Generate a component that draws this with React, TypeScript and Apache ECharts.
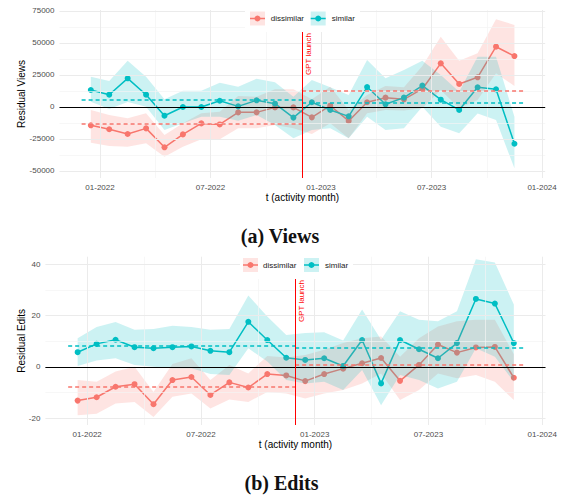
import React, { useEffect, useRef } from "react";
import * as echarts from "echarts";

// ---------- data ----------
const months = [
  "2021-12", "2022-01", "2022-02", "2022-03", "2022-04", "2022-05",
  "2022-06", "2022-07", "2022-08", "2022-09", "2022-10", "2022-11",
  "2022-12", "2023-01", "2023-02", "2023-03", "2023-04", "2023-05",
  "2023-06", "2023-07", "2023-08", "2023-09", "2023-10", "2023-11",
];
const groups = ["dissimilar", "similar"];

const viewsDissimilar = [-14300, -17400, -21100, -16700, -31500, -21400, -12800, -13600, -4200, -4200, -300, -300, -8100, 1000, -10900, 3700, 7300, 6000, 14100, 34100, 18000, 23200, 47100, 39800];
const viewsDissimilarLo = [-27900, -30500, -31000, -28400, -38800, -31000, -25200, -25200, -16700, -16700, -14000, -16700, -21100, -12700, -24500, -4900, -2300, -2700, -1000, 13300, -1000, 5500, 26300, 16400];
const viewsDissimilarHi = [-2300, -6300, -8800, -4900, -21900, -12700, -4900, -3700, 8600, 8000, 13800, 13800, 6000, 15900, -2300, 9400, 16400, 15400, 32000, 54900, 36200, 41900, 68500, 64100];
const viewsSimilar = [13300, 9600, 22400, 9600, -6800, 0, 0, 4900, 500, 5200, 2600, -8300, 3700, -2300, -7300, 15600, 2100, 7300, 16700, 5700, -2300, 15400, 13800, -28700];
const viewsSimilarLo = [4100, -1600, 3900, 200, -18000, -12700, -7600, -7600, -10700, -6300, -14000, -24500, -18000, -16700, -24500, -7600, -18000, -16700, 200, -15400, -20600, -5000, -10200, -47900];
const viewsSimilarHi = [23700, 20300, 36200, 23700, 6000, 12700, 12700, 19000, 15900, 22100, 19300, 8000, 21100, 15400, 9400, 36700, 22400, 28900, 36200, 25000, 12000, 39300, 39300, -7600];

const editsDissimilar = [-13.1, -11.8, -7.7, -6.7, -14.5, -5.1, -3.9, -10.9, -6.0, -8.0, -2.75, -3.3, -5.5, -2.75, -0.65, 1.45, 3.5, -5.4, 0.8, 8.75, 5.6, 7.6, 7.8, -4.2];
const editsDissimilarLo = [-18.8, -18.2, -14.2, -13.6, -19.5, -11.6, -10.3, -16.2, -12.7, -13.6, -9.7, -10.3, -12.3, -10.3, -9.0, -6.4, -2.5, -12.9, -9.0, -2.5, -4.4, -3.1, -5.75, -12.9];
const editsDissimilarHi = [-5.1, -5.75, -1.8, 0.1, -9.7, 1.2, 3.4, -5.1, 0.8, -2.5, 4.3, 3.7, 4.7, 6.7, 9.3, 11.2, 11.9, 4.0, 11.2, 15.8, 17.8, 18.4, 18.4, 5.0];
const editsSimilar = [5.75, 9.0, 10.6, 7.7, 7.3, 7.7, 8.0, 6.3, 5.75, 17.6, 10.5, 3.6, 2.75, 3.4, 0.4, 10.5, -6.4, 10.5, 6.9, 3.4, 9.3, 26.5, 24.7, 9.3];
const editsSimilarLo = [0.4, 2.5, 3.4, 0.8, 0.1, -0.5, -0.5, -2.75, -3.1, 7.3, 2.1, -5.1, -6.4, -5.75, -9.0, -1.2, -14.9, -3.1, -5.1, -8.4, -5.75, 7.3, 4.0, -5.75];
const editsSimilarHi = [11.2, 15.6, 17.5, 14.5, 14.8, 16.1, 15.6, 14.5, 14.8, 27.8, 19.7, 12.5, 13.2, 13.5, 10.3, 22.4, 10.6, 21.7, 18.4, 17.8, 21.7, 42.0, 40.7, 24.3];

// group means: [pre-launch, post-launch]
const viewsMeanDissimilar = [-12700, 12500];
const viewsMeanSimilar = [5500, 3700];
const editsMeanDissimilar = [-7.7, 1.05];
const editsMeanSimilar = [8.2, 7.45];

// month index (0 = Jan 2022)
const gptLaunch = 10.97;
const prePeriod = [-1, 10.97];
const postPeriod = [10.97, 23];

const xTickMonths = [0, 6, 12, 18, 24];
const xTickLabels = ["01-2022", "07-2022", "01-2023", "07-2023", "01-2024"];
const xMinorMonths = [3, 9, 15, 21];
const viewsTicks = [-50000, -25000, 0, 25000, 50000, 75000];
const viewsMinor = [-37500, -12500, 12500, 37500, 62500];
const editsTicks = [-20, 0, 20, 40];
const editsMinor = [-10, 10, 30];

// ---------- styles ----------
const COLORS = ["#F8766D", "#00BFC4"];
const BANDS = ["rgba(248,118,109,0.2)", "rgba(0,191,196,0.2)"];
const FONT = "'Liberation Sans', Arial, sans-serif";
const MAJOR = { color: "#EBEBEB", width: 1, type: "solid" as const };
const MINOR = { color: "#F3F3F3", width: 0.7, type: "solid" as const };

const monthPos = (s: string) => {
  const [y, m] = s.split("-").map(Number);
  return (y - 2022) * 12 + (m - 1) + 0.5;
};
const xs = months.map(monthPos);

export default function App() {
  const ref = useRef<HTMLDivElement>(null);

  useEffect(() => {
    if (!ref.current) return;
    const chart = echarts.init(ref.current, null, { renderer: "svg" });

    const panels = [
      {
        name: "Residual Views",
        vals: [viewsDissimilar, viewsSimilar],
        lo: [viewsDissimilarLo, viewsSimilarLo],
        hi: [viewsDissimilarHi, viewsSimilarHi],
        means: [viewsMeanDissimilar, viewsMeanSimilar],
        ticks: viewsTicks,
        minor: viewsMinor,
        min: -55470,
        max: 75780,
        nameGap: 33,
      },
      {
        name: "Residual Edits",
        vals: [editsDissimilar, editsSimilar],
        lo: [editsDissimilarLo, editsSimilarLo],
        hi: [editsDissimilarHi, editsSimilarHi],
        means: [editsMeanDissimilar, editsMeanSimilar],
        ticks: editsTicks,
        minor: editsMinor,
        min: -22.6,
        max: 42.96,
        nameGap: 18.7,
      },
    ];

    const grids = [
      { left: 59.5, top: 10, width: 485.7, height: 168, outerBoundsMode: "none", containLabel: false },
      { left: 45.4, top: 256.7, width: 500.1, height: 168.3, outerBoundsMode: "none", containLabel: false },
    ];

    const xAxes = panels.map((_, g) => ({
      type: "value",
      gridIndex: g,
      min: -2.2,
      max: 24.17,
      axisLine: { show: false },
      axisTick: { show: false },
      splitLine: { show: false },
      axisLabel: {
        customValues: xTickMonths,
        formatter: (v: number) => xTickLabels[xTickMonths.indexOf(v)] ?? "",
        fontSize: 8,
        color: "#4D4D4D",
        fontFamily: FONT,
        margin: 5,
      },
      name: "t (activity month)",
      nameLocation: "middle",
      nameGap: 14,
      nameMoveOverlap: false,
      nameTextStyle: { fontSize: 10, color: "#000", fontFamily: FONT },
    }));

    const yAxes = panels.map((p, g) => ({
      type: "value",
      gridIndex: g,
      min: p.min,
      max: p.max,
      axisLine: { show: false },
      axisTick: { show: false },
      splitLine: { show: false },
      axisLabel: {
        customValues: p.ticks,
        formatter: (v: number) => String(v),
        fontSize: 8,
        color: "#4D4D4D",
        fontFamily: FONT,
        margin: 5,
      },
      name: p.name,
      nameLocation: "middle",
      nameGap: p.nameGap,
      nameMoveOverlap: false,
      nameTextStyle: { fontSize: 10, color: "#000", fontFamily: FONT },
    }));

    const series: any[] = [];
    panels.forEach((p, g) => {
      // grid lines
      series.push({
        type: "line",
        xAxisIndex: g,
        yAxisIndex: g,
        data: [],
        silent: true,
        z: 1,
        markLine: {
          silent: true,
          symbol: ["none", "none"],
          label: { show: false },
          data: [
            ...xMinorMonths.map((v) => ({ xAxis: v, lineStyle: MINOR })),
            ...p.minor.map((v) => ({ yAxis: v, lineStyle: MINOR })),
            ...xTickMonths.map((v) => ({ xAxis: v, lineStyle: MAJOR })),
            ...p.ticks.map((v) => ({ yAxis: v, lineStyle: MAJOR })),
          ],
        },
      });
      // lines + points
      groups.forEach((name, k) => {
        series.push({
          type: "line",
          name,
          xAxisIndex: g,
          yAxisIndex: g,
          data: xs.map((x, i) => [x, p.vals[k][i]]),
          symbol: "circle",
          symbolSize: 6,
          showAllSymbol: true,
          itemStyle: { color: COLORS[k] },
          lineStyle: { color: COLORS[k], width: 1.5 },
          z: 2,
        });
      });
      // confidence bands (drawn over the lines, as in the original)
      groups.forEach((name, k) => {
        const lo = p.lo[k];
        const hi = p.hi[k];
        series.push({
          type: "custom",
          name: name + " band",
          xAxisIndex: g,
          yAxisIndex: g,
          data: xs.map((x, i) => [x, lo[i], hi[i]]),
          encode: { x: 0, y: [1, 2] },
          silent: true,
          clip: true,
          z: 3,
          renderItem: (params: any, api: any) => {
            if (params.dataIndex !== 0) return null;
            const upper = xs.map((x, i) => api.coord([x, hi[i]]));
            const lower = xs.map((x, i) => api.coord([x, lo[i]])).reverse();
            return {
              type: "polygon",
              shape: { points: upper.concat(lower) },
              style: { fill: BANDS[k] },
            };
          },
        });
      });
      // zero line, group means, launch line
      const dashed = (k: number) => ({
        color: COLORS[k],
        width: 1.6,
        type: [4, 3] as any,
      });
      const segs: any[] = [];
      groups.forEach((_, k) => {
        segs.push([
          { coord: [prePeriod[0], p.means[k][0]], lineStyle: dashed(k) },
          { coord: [prePeriod[1], p.means[k][0]] },
        ]);
        segs.push([
          { coord: [postPeriod[0], p.means[k][1]], lineStyle: dashed(k) },
          { coord: [postPeriod[1], p.means[k][1]] },
        ]);
      });
      series.push({
        type: "line",
        xAxisIndex: g,
        yAxisIndex: g,
        data: [],
        silent: true,
        z: 4,
        markLine: {
          silent: true,
          symbol: ["none", "none"],
          label: { show: false },
          data: [
            { yAxis: 0, lineStyle: { color: "#000", width: 1, type: "solid" } },
            ...segs,
            { xAxis: gptLaunch, lineStyle: { color: "#FF0000", width: 1, type: "solid" } },
          ],
        },
      });
    });

    chart.setOption({
      animation: false,
      backgroundColor: "#fff",
      grid: grids,
      xAxis: xAxes,
      yAxis: yAxes,
      series,
    });

    // annotations: legend boxes, launch labels, captions
    const legendBoxes = [
      { x: 245, y: 3, w: 115, h: 29, cy: 18.5, keys: [250, 310.7], texts: [270.7, 331.7] },
      { x: 240, y: 249, w: 113, h: 30, cy: 265, keys: [243, 304], texts: [263, 325] },
    ];
    const captions = [
      { text: "(a) Views", x: 280, y: 236 },
      { text: "(b) Edits", x: 281.5, y: 483 },
    ];
    const graphic: any[] = [];
    legendBoxes.forEach((b, g) => {
      graphic.push({
        type: "rect",
        shape: { x: b.x, y: b.y, width: b.w, height: b.h },
        style: { fill: "#fff" },
        z: 100,
      });
      groups.forEach((name, k) => {
        const kx = b.keys[k];
        graphic.push({
          type: "rect",
          shape: { x: kx, y: b.cy - 7, width: 15, height: 14 },
          style: { fill: BANDS[k] },
          z: 101,
        });
        graphic.push({
          type: "line",
          shape: { x1: kx, y1: b.cy, x2: kx + 15, y2: b.cy },
          style: { stroke: COLORS[k], lineWidth: 1.5 },
          z: 102,
        });
        graphic.push({
          type: "circle",
          shape: { cx: kx + 7.5, cy: b.cy, r: 3 },
          style: { fill: COLORS[k] },
          z: 103,
        });
        graphic.push({
          type: "text",
          x: b.texts[k],
          y: b.cy,
          style: {
            text: name,
            fontSize: 8,
            fontFamily: FONT,
            fill: "#1A1A1A",
            textAlign: "left",
            textVerticalAlign: "middle",
          },
          z: 103,
        });
      });
      const px = chart.convertToPixel({ xAxisIndex: g, yAxisIndex: g }, [gptLaunch, 0]) as number[];
      graphic.push({
        type: "text",
        x: px[0] + 6.3,
        y: b.y + b.h + 1,
        rotation: Math.PI / 2,
        style: {
          text: "GPT launch",
          fontSize: 8,
          fontFamily: FONT,
          fill: "#FF0000",
          textAlign: "right",
          textVerticalAlign: "middle",
        },
        z: 104,
      });
    });
    captions.forEach((c) => {
      graphic.push({
        type: "text",
        x: c.x,
        y: c.y,
        style: {
          text: c.text,
          font: "bold 20px 'Liberation Serif', 'Times New Roman', serif",
          fill: "#111",
          textAlign: "center",
          textVerticalAlign: "middle",
        },
        z: 104,
      });
    });
    chart.setOption({ graphic });

    return () => chart.dispose();
  }, []);

  return (
    <div
      ref={ref}
      style={{ position: "fixed", left: 0, top: 0, width: 564, height: 497 }}
    />
  );
}
